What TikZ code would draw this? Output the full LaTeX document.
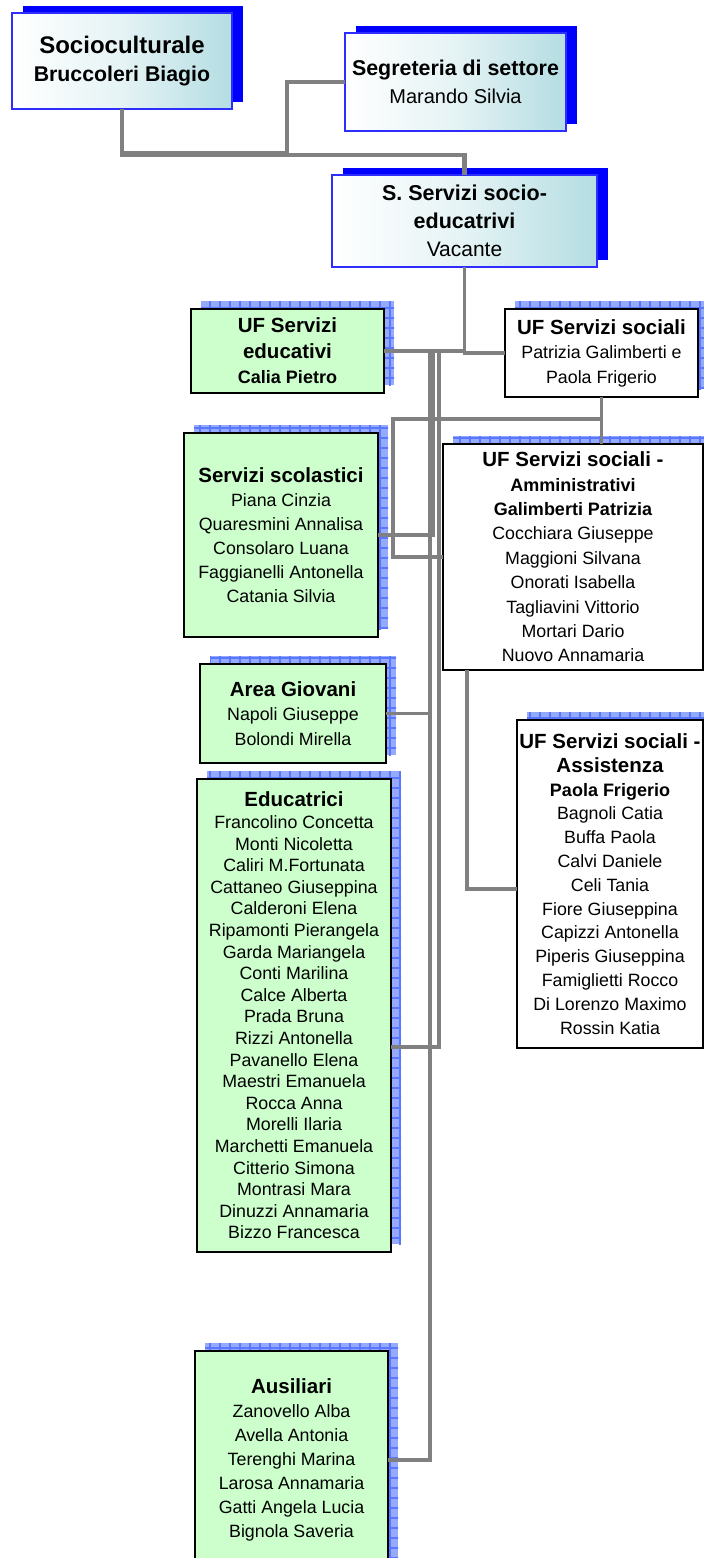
\documentclass[tikz,border=0pt]{standalone}
\usepackage{fontspec}
\setmainfont{Liberation Sans}
\usetikzlibrary{shadows,patterns.meta}
\definecolor{linegray}{RGB}{128,128,128}
\definecolor{topblue}{RGB}{0,0,255}
\definecolor{topborder}{RGB}{45,45,255}
\definecolor{tealA}{RGB}{180,221,226}
\definecolor{boxgreen}{RGB}{204,255,204}
\definecolor{shfill}{RGB}{150,170,252}
\definecolor{shgrid}{RGB}{90,120,255}
\newcommand\tB[1]{{\fontsize{20.5}{\baselineskip}\selectfont\bfseries #1}}
\newcommand\sB[1]{{\fontsize{18}{\baselineskip}\selectfont\bfseries #1}}
\tikzset{
  topbox/.style={draw=topborder, line width=1.6pt, inner sep=0pt, outer sep=0pt, align=center,
     left color=white, right color=tealA, middle color=tealA!35,
     general shadow={fill=topblue, shadow xshift=11pt, shadow yshift=7pt}},
  patshadow/.style={general shadow={fill=shfill, shadow xshift=10pt, shadow yshift=8pt},
     general shadow={pattern={Hatch[distance=10pt, angle=0, line width=1.1pt]}, pattern color=shgrid, shadow xshift=10pt, shadow yshift=8pt}},
  orgbox/.style={draw=black, line width=1.6pt, inner sep=0pt, outer sep=0pt, align=center, patshadow, font=\fontsize{17.8}{24}\selectfont},
  greenorg/.style={orgbox, fill=boxgreen},
  whiteorg/.style={orgbox, fill=white},
  conn/.style={draw=linegray, line width=3.5pt},
  trunk/.style={draw=linegray, line width=4.5pt},
}
\begin{document}
\begin{tikzpicture}[x=1pt,y=-1pt]
\useasboundingbox (0,0) rectangle (704,1558);

% top boxes
\node[topbox, minimum width=220pt, minimum height=96pt, font=\fontsize{21}{28}\selectfont] (soc) at (122,61)
  {{\fontsize{24}{28}\selectfont\bfseries Socioculturale}\\{\fontsize{21.3}{28}\selectfont\bfseries Bruccoleri Biagio}};
\node[topbox, minimum width=221pt, minimum height=98pt, font=\fontsize{20}{28}\selectfont] (seg) at (455.5,82)
  {{\fontsize{21.4}{28}\selectfont\bfseries Segreteria di settore}\\Marando Silvia};
\node[topbox, minimum width=265pt, minimum height=92pt, font=\fontsize{21}{28}\selectfont] (sserv) at (464.5,221)
  {{\fontsize{21.5}{28}\selectfont\bfseries S. Servizi socio-}\\{\fontsize{21.5}{28}\selectfont\bfseries educatrivi}\\Vacante};

% org boxes
\node[greenorg, minimum width=193pt, minimum height=84pt, font=\fontsize{17.8}{25.5}\selectfont] (ufedu) at (287.5,351)
  {\tB{UF Servizi}\\\tB{educativi}\\\sB{Calia Pietro}};
\node[whiteorg, minimum width=193pt, minimum height=88pt, font=\fontsize{17.8}{24.5}\selectfont] (ufsoc) at (601.5,353)
  {\tB{UF Servizi sociali}\\Patrizia Galimberti e\\Paola Frigerio};
\node[greenorg, minimum width=194pt, minimum height=204pt] (scol) at (281,535)
  {\tB{Servizi scolastici}\\Piana Cinzia\\Quaresmini Annalisa\\Consolaro Luana\\Faggianelli Antonella\\Catania Silvia};
\node[whiteorg, minimum width=260pt, minimum height=226pt, font=\fontsize{17.8}{24.4}\selectfont] (amm) at (573,557)
  {\tB{UF Servizi sociali -}\\\sB{Amministrativi}\\\sB{Galimberti Patrizia}\\Cocchiara Giuseppe\\Maggioni Silvana\\Onorati Isabella\\Tagliavini Vittorio\\Mortari Dario\\Nuovo Annamaria};
\node[greenorg, minimum width=186pt, minimum height=99pt, font=\fontsize{17.8}{24.5}\selectfont] (area) at (293,713.5)
  {\tB{Area Giovani}\\Napoli Giuseppe\\Bolondi Mirella};
\node[greenorg, minimum width=194pt, minimum height=473pt, font=\fontsize{17.8}{21.6}\selectfont] (edu) at (294,1015.5)
  {\tB{Educatrici}\\Francolino Concetta\\Monti Nicoletta\\Caliri M.Fortunata\\Cattaneo Giuseppina\\Calderoni Elena\\Ripamonti Pierangela\\Garda Mariangela\\Conti Marilina\\Calce Alberta\\Prada Bruna\\Rizzi Antonella\\Pavanello Elena\\Maestri Emanuela\\Rocca Anna\\Morelli Ilaria\\Marchetti Emanuela\\Citterio Simona\\Montrasi Mara\\Dinuzzi Annamaria\\Bizzo Francesca};
\node[whiteorg, minimum width=186pt, minimum height=328pt, font=\fontsize{17.8}{23.8}\selectfont] (assist) at (610,884)
  {\tB{UF Servizi sociali -}\\\tB{Assistenza}\\\sB{Paola Frigerio}\\Bagnoli Catia\\Buffa Paola\\Calvi Daniele\\Celi Tania\\Fiore Giuseppina\\Capizzi Antonella\\Piperis Giuseppina\\Famiglietti Rocco\\Di Lorenzo Maximo\\Rossin Katia};
\node[greenorg, minimum width=193pt, minimum height=218pt] (aus) at (291.5,1460)
  {\tB{Ausiliari}\\Zanovello Alba\\Avella Antonia\\Terenghi Marina\\Larosa Annamaria\\Gatti Angela Lucia\\Bignola Saveria};

% connectors
\draw[trunk] (soc.south) -- ++(0,46) -| (sserv.north);
\draw[conn] (soc.south) -- ++(0,44) -| (287,82) -- (seg.west);
\draw[conn] (sserv.south) |- (ufsoc.west);
\draw[conn] (sserv.south) |- (ufedu.east);
\draw[conn] (sserv.south) |- (433,351) |- (scol.east);
\draw[conn] (sserv.south) |- (430,351) |- (area.east);
\draw[conn] (sserv.south) |- (430,351) |- (aus.east);
\draw[conn] (sserv.south) |- (439,351) -- (439,1047) -- (edu.east |- 0,1047);
\draw[conn] (ufsoc.south) -- (ufsoc.south |- amm.north);
\draw[conn] (ufsoc.south) |- (393,419) |- (amm.west);
\draw[conn] (amm.south -| 467,0) |- (assist.west |- 0,889);
\end{tikzpicture}
\end{document}
